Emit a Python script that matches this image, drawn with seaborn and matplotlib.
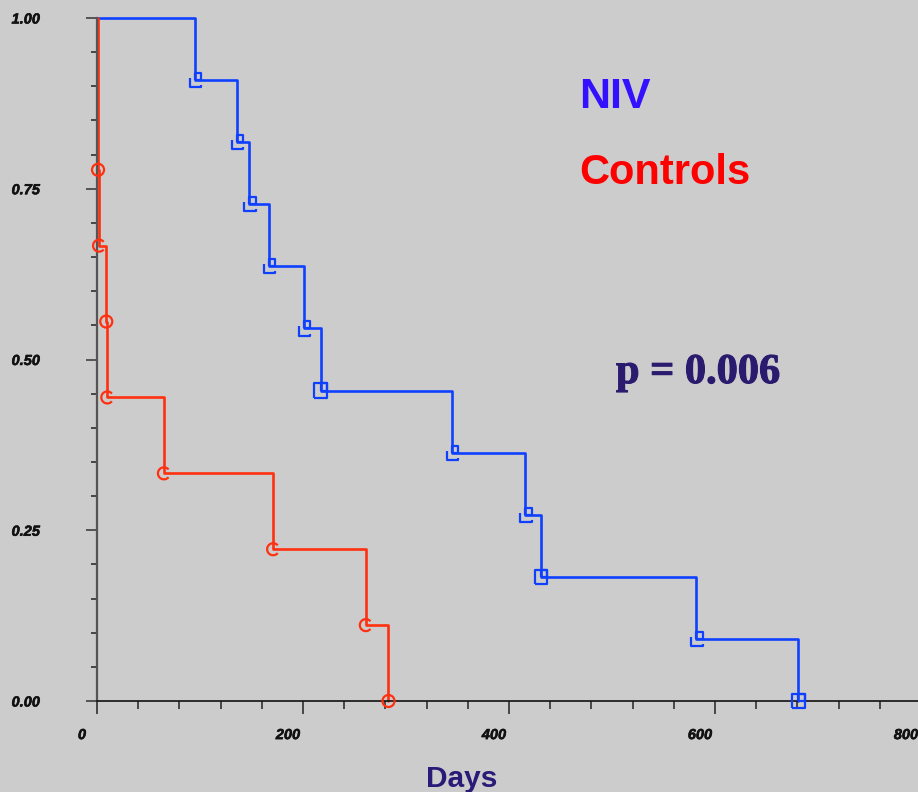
import numpy as np
import pandas as pd
import matplotlib
matplotlib.use("Agg")
import matplotlib.pyplot as plt
import matplotlib.patheffects as pe
import seaborn as sns
from matplotlib.path import Path
from matplotlib.markers import MarkerStyle
from matplotlib.transforms import ScaledTranslation

# event times (days)
niv_days = [95, 136, 148, 167, 201, 217, 345, 416, 431, 582, 681]
control_days = [1, 1, 2, 9, 10, 65, 171, 261, 283]

x_ticks = [0, 200, 400, 600, 800]
y_ticks = [0.0, 0.25, 0.5, 0.75, 1.0]
y_tick_labels = ["0.00", "0.25", "0.50", "0.75", "1.00"]

BG = "#cccccc"
BLUE = "#1040ff"
RED = "#ff3010"


def km_steps(times):
    times = np.asarray(times, dtype=float)
    n = len(times)
    levels = 1 - np.arange(1, n + 1) / n
    x = np.concatenate([[0], times])
    y = np.concatenate([[1.0], levels])
    # one mark per event, except the earlier ones of a tie
    keep = np.append(times[1:] != times[:-1], True)
    return x, y, times[keep], levels[keep]


def make_markers():
    # blue: small square at the corner plus an offset "L"
    sq = [(0, 0), (6, 0), (6, 7), (0, 7), (0, 0)]
    ell = [(-5, 2), (-5, -7), (6, -7), (6, -5)]
    verts = sq + ell
    codes = [Path.MOVETO] + [Path.LINETO] * 4 + [Path.MOVETO] + [Path.LINETO] * 3
    blue_l = MarkerStyle(Path(verts, codes))
    big = [(-6, -7), (6, -7), (6, 7), (-6, 7), (-6, -7)]
    verts = sq + big
    codes = [Path.MOVETO] + [Path.LINETO] * 4 + [Path.MOVETO] + [Path.LINETO] * 4
    blue_full = MarkerStyle(Path(verts, codes))
    red_c = MarkerStyle(Path.arc(40, 320))
    red_o = MarkerStyle(Path.unit_circle())
    return blue_l, blue_full, red_c, red_o


def main():
    sns.set_theme(style="ticks")
    plt.rcParams["font.family"] = ["Liberation Sans", "DejaVu Sans"]

    fig = plt.figure(figsize=(9.18, 7.92), dpi=100, facecolor=BG)
    ax = fig.add_axes([97 / 918, 91 / 792, 824 / 918, 683 / 792], facecolor=BG)

    blue_l, blue_full, red_c, red_o = make_markers()

    nx, ny, nmx, nmy = km_steps(niv_days)
    cx, cy, cmx, cmy = km_steps(control_days)

    niv = pd.DataFrame({"day": nx, "surv": ny})
    ctl = pd.DataFrame({"day": cx, "surv": cy})

    sns.lineplot(data=niv, x="day", y="surv", ax=ax, color=BLUE, lw=1.9,
                 drawstyle="steps-post", estimator=None, sort=False, clip_on=False)
    sns.lineplot(data=ctl, x="day", y="surv", ax=ax, color=RED, lw=1.9,
                 drawstyle="steps-post", estimator=None, sort=False, clip_on=False)

    # marker shape per event
    blue_kind = [blue_full if round(v * 11) in (5, 2, 0) else blue_l for v in nmy]
    red_kind = [red_o if round(v * 9) in (7, 5, 0) else red_c for v in cmy]

    for x, y, m in zip(nmx, nmy, blue_kind):
        sns.scatterplot(x=[x], y=[y], ax=ax, marker=m, s=105, facecolors="none",
                        edgecolor=BLUE, linewidth=1.6, clip_on=False, zorder=5)
    for x, y, m in zip(cmx, cmy, red_kind):
        sns.scatterplot(x=[x], y=[y], ax=ax, marker=m, s=75, facecolors="none",
                        edgecolor=RED, linewidth=1.6, clip_on=False, zorder=5)

    ax.set_xlim(0, 800)
    ax.set_ylim(0, 1)
    ax.set_xlabel("")
    ax.set_ylabel("")

    ax.set_xticks(x_ticks)
    ax.set_xticklabels([str(v) for v in x_ticks])
    ax.set_xticks(np.arange(0, 801, 40), minor=True)
    ax.set_yticks(y_ticks)
    ax.set_yticklabels(y_tick_labels)
    ax.set_yticks(np.arange(0, 1.001, 0.05), minor=True)

    ax.tick_params(axis="x", which="major", length=9.5, width=1.1, color="#222222",
                   direction="out", pad=10)
    ax.tick_params(axis="x", which="minor", length=6, width=1.1, color="#222222",
                   direction="out")
    ax.tick_params(axis="y", which="major", length=8, width=1.1, color="#333333",
                   direction="out", pad=33)
    ax.tick_params(axis="y", which="minor", length=4.3, width=1.1, color="#222222",
                   direction="out")

    for lab in ax.get_xticklabels() + ax.get_yticklabels():
        lab.set_fontweight("bold")
        lab.set_fontstyle("italic")
        lab.set_fontsize(10.5)
        lab.set_color("#111111")
        lab.set_path_effects([pe.withStroke(linewidth=0.4, foreground="#111111")])
    for lab in ax.get_xticklabels():
        lab.set_transform(lab.get_transform()
                          + ScaledTranslation(-15 / 100, 0, fig.dpi_scale_trans))

    sns.despine(ax=ax)
    ax.spines["left"].set_color("#555555")
    ax.spines["left"].set_linewidth(1.6)
    ax.spines["bottom"].set_color("#111111")
    ax.spines["bottom"].set_linewidth(1.2)

    fig.text(579 / 918, 1 - 108 / 792, "NIV", color="#3311ff", fontsize=31,
             fontweight="bold", ha="left", va="baseline")
    fig.text(579 / 918, 1 - 184 / 792, "Controls", color="#ff0000", fontsize=30,
             fontweight="bold", ha="left", va="baseline")
    p_txt = fig.text(616 / 918, 1 - 383 / 792, "p = 0.006", color="#2b1b6e",
                     fontsize=30.5, fontweight="bold",
                     family=["Liberation Serif", "DejaVu Serif"],
                     ha="left", va="baseline")
    p_txt.set_path_effects([pe.withStroke(linewidth=0.8, foreground="#2b1b6e")])
    fig.text(462 / 918, 5 / 792, "Days", color="#2b1b78", fontsize=21.5,
             fontweight="bold", ha="center", va="baseline")

    fig.savefig("out.png", dpi=100, facecolor=BG)


if __name__ == "__main__":
    main()
